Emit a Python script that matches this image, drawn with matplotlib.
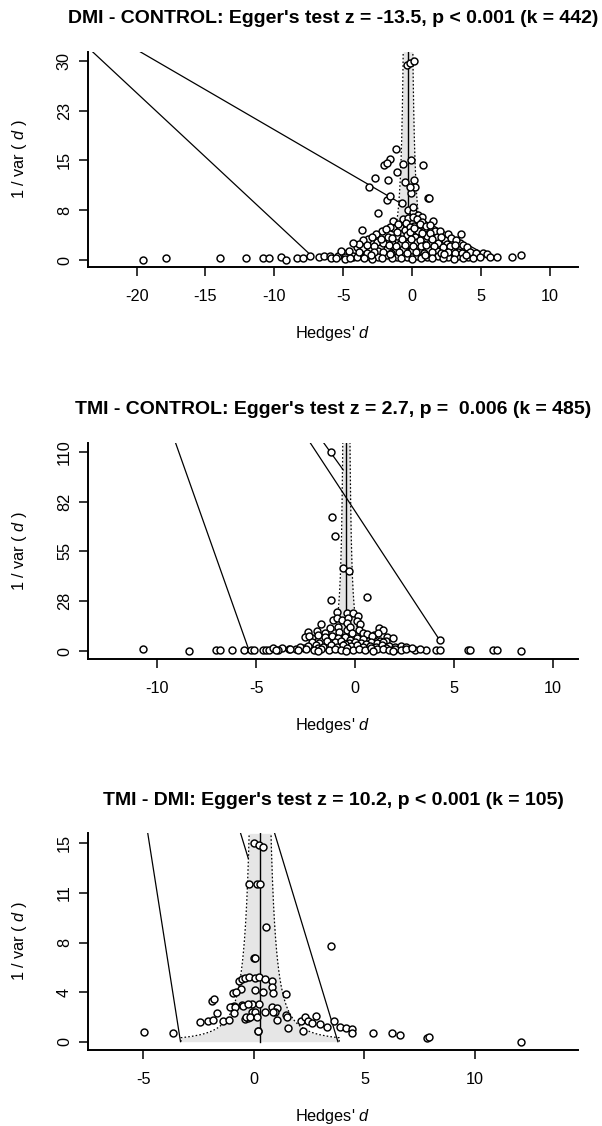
import numpy as np
import matplotlib
matplotlib.use("Agg")
import matplotlib.pyplot as plt

plt.rcParams['font.family'] = ['Liberation Sans', 'DejaVu Sans']
plt.rcParams['mathtext.fontset'] = 'custom'
plt.rcParams['mathtext.it'] = 'Liberation Sans:italic'
plt.rcParams['mathtext.rm'] = 'Liberation Sans'

# ---------------- DMI - CONTROL ----------------
dc_title = "DMI - CONTROL: Egger's test z = -13.5, p < 0.001 (k = 442)"
dc_est = -0.31
dc_d = [
    -0.41, -0.17, 0.12, -1.18, -1.62, -2.03, -1.86, -0.70, -0.09, 0.80, -1.13, -2.71,
    -1.74, -3.14, -0.53, 0.15, 0.20, -0.09, -0.17, 1.16, 1.22, -1.86, -1.65, -0.77,
    -0.29, 0.07, 0.03, -2.49, 0.44, 0.68, -1.38, 1.52, -3.67, 3.53,
    -0.65, -0.29, 0.07, 0.32, 0.68,
    -1.38, -0.89, -0.53, -0.04, 0.44, 0.92, 1.65,
    -1.74, -1.13, -0.41, 0.20, 1.05, 1.77, 2.37,
    -2.58, -2.10, -1.49, -0.89, -0.29, 0.32, 0.80, 1.28, 1.89, 2.50, 2.98, 3.46,
    -4.03, -3.55, -3.07, -2.47, -1.86, -1.26, -0.65, -0.04, 0.56, 1.16, 1.77, 2.37,
    2.86, 3.34, 3.82,
    -4.28, -3.80, -3.19, -2.47, -1.86, -1.13, -0.41, 0.32, 1.05, 1.89, 2.61, 3.34, 4.06,
    5.15, 5.40, 5.64, 6.12, 7.26, 7.89,
    -19.53, -17.86, -13.96, -12.04, -10.84, -10.42, -9.50, -9.17, -8.39, -7.91, -7.44,
    -6.80, -6.38, -5.97, -5.90, -5.40, -5.04, -4.87, -4.29, -4.00,
    -1.05, -0.45, 0.15, 0.55, 1.00, -1.60, 1.30, -0.15,
    -2.20, -1.90, -1.10, -0.20, 0.70, 1.30, 2.00, -2.60, 2.60, 0.10,
    -3.20, -2.90, -2.30, -1.50, -0.75, -0.10, 0.55, 1.40, 2.10, 2.80, 3.20, -3.60,
    -3.90, -3.30, -2.80, -1.70, -1.20, -0.50, 0.05, 0.60, 1.00, 1.60, 2.20, 2.70,
    3.10, 3.70, -4.30, 4.00,
    -4.60, -3.90, -3.30, -2.80, -2.10, -1.55, -0.95, -0.35, 0.25, 0.85, 1.45, 2.05,
    2.60, 3.10, 3.60, 4.20, 4.60, -5.20,
    -5.50, -4.90, -4.50, -3.50, -2.90, -2.20, -1.50, -0.80, 0.00, 0.65, 1.40, 2.20,
    3.00, 3.70, 4.40, 4.90, -3.00, -1.60, 0.90, 2.30, 3.90,
]
dc_prec = [
    29.40, 29.75, 30.05, 16.70, 15.30, 14.27, 14.67, 14.47, 15.08, 14.32, 13.30, 12.30,
    12.06, 11.05, 11.80, 12.06, 11.05, 10.05, 11.05, 9.40, 9.40, 9.05, 9.60, 8.64,
    7.54, 7.28, 8.00, 7.04, 6.78, 6.53, 5.93, 5.93, 4.52, 3.92,
    6.13, 6.28, 6.53, 6.13, 5.77,
    4.77, 4.92, 4.52, 4.62, 4.42, 4.77, 4.42,
    3.52, 3.62, 3.77, 3.52, 3.62, 3.42, 3.02,
    2.76, 2.51, 2.61, 2.41, 2.61, 2.76, 2.41, 2.61, 2.51, 2.41, 2.76, 2.51,
    2.00, 1.76, 1.51, 1.40, 1.61, 1.40, 1.61, 1.51, 1.40, 1.61, 1.40, 1.61,
    1.40, 1.25, 1.51,
    0.50, 0.75, 0.60, 0.40, 0.75, 0.50, 0.40, 0.60, 0.40, 0.60, 0.40, 0.60, 0.40,
    1.00, 0.84, 0.50, 0.50, 0.50, 0.70,
    0.00, 0.25, 0.25, 0.25, 0.25, 0.25, 0.45, 0.00, 0.25, 0.25, 0.60,
    0.40, 0.60, 0.60, 0.25, 0.60, 1.10, 0.40, 0.60, 0.40,
    5.40, 5.55, 5.20, 5.45, 5.10, 5.05, 5.25, 5.00,
    4.30, 4.60, 4.20, 4.25, 4.00, 4.10, 4.30, 3.95, 3.85, 4.90,
    3.20, 3.50, 3.10, 3.30, 3.10, 3.20, 3.05, 3.15, 3.50, 3.30, 3.00, 3.00,
    2.40, 2.20, 2.10, 2.20, 2.05, 2.20, 2.15, 2.05, 2.25, 2.10, 2.00, 2.10,
    2.20, 2.30, 2.60, 2.00,
    1.30, 1.20, 1.05, 1.15, 1.20, 1.05, 1.20, 1.10, 1.20, 1.05, 1.20, 1.10,
    1.20, 1.00, 1.05, 1.20, 1.00, 1.30,
    0.30, 0.20, 0.25, 0.30, 0.20, 0.30, 0.25, 0.30, 0.20, 0.30, 0.25, 0.30,
    0.20, 0.30, 0.25, 0.50, 0.80, 0.90, 0.80, 0.85, 0.80,
]
dc_segments = [((-23.2, 31.4), (-7.5, 1.0)),
               ((-19.75, 31.4), (-1.0, 8.75)),
               ((0.45, 6.4), (5.5, 0.6))]
dc_xticks = [-20, -15, -10, -5, 0, 5, 10]
dc_yticks = [0, 7.5, 15, 22.5, 30]
dc_yticklabels = ['0', '8', '15', '23', '30']

# ---------------- TMI - CONTROL ----------------
tc_title = "TMI - CONTROL: Egger's test z = 2.7, p =  0.006 (k = 485)"
tc_est = -0.44
tc_d = [
    -1.22, -1.15, -1.00, -0.60, -0.30, -1.21, 0.62,
    -0.89, -0.42, -0.12, 0.17,
    -1.10, -0.89, -0.67, -0.34, -0.42, 0.09, 0.25,
    -1.74, -1.26, -0.88, -0.42, -0.25, 0.22, 1.23, 1.43,
    -2.36, -1.94, -1.52, -0.79, -0.17, 0.42,
    0.59, 0.96, 1.18, 1.60, 1.57, 1.94, 1.26, 0.67,
    -2.53, -2.19, -1.85, -1.52, -1.18, -0.84, -0.51, -0.25, 0.09, 0.42,
    -2.33, 0.84, 4.27,
    -10.73, -8.40, -7.05, -6.85, -6.21, -5.62, -5.24, -5.10, -4.65, -4.50, -4.37,
    -4.13, -3.69, -3.35, -3.00, -2.60, 3.01, 3.60, 4.08, 4.27, 5.70, 5.83, 7.00,
    7.20, 8.39,
    -2.20, -1.80, -1.40, -1.00, -0.70, -0.30, 0.00, 0.30, 0.80, 1.10, 1.40, -0.50, 0.55,
    -2.40, -2.00, -1.60, -1.20, -0.90, -0.60, -0.20, 0.10, 0.40, 0.75, 1.05, 1.35,
    1.70, 2.00, 2.30, 2.60, -2.80, -1.90, 1.55,
    -3.30, -2.90, -2.50, -2.10, -1.70, -1.30, -1.00, -0.70, -0.40, -0.10, 0.20, 0.50,
    0.80, 1.10, 1.40, 1.70, 2.00, 2.30, 2.60, 2.90, -3.90, -4.00, 3.30, -0.45, 0.90,
    1.90, -1.90,
]
tc_prec = [
    110.0, 74.1, 63.3, 45.8, 44.2, 28.3, 30.0,
    21.7, 20.8, 20.8, 19.3,
    17.1, 18.0, 17.1, 18.0, 15.3, 16.6, 14.9,
    14.9, 12.5, 13.4, 11.6, 13.1, 11.6, 12.5, 11.6,
    10.3, 11.0, 9.8, 10.3, 9.8, 10.1,
    9.2, 8.8, 9.8, 7.9, 5.7, 7.0, 5.7, 5.7,
    7.9, 7.0, 8.8, 7.5, 8.3, 7.0, 7.5, 6.1, 7.0, 6.5,
    8.2, 8.3, 6.1,
    1.0, 0.0, 0.8, 0.8, 0.8, 0.8, 0.5, 0.5, 0.5, 0.5, 0.8,
    1.5, 1.8, 1.2, 1.2, 1.5, 0.5, 0.5, 0.8, 0.8, 0.8, 0.8, 0.8,
    0.8, 0.0,
    5.0, 4.6, 5.3, 4.8, 5.6, 4.5, 5.1, 4.7, 5.2, 4.4, 4.9, 3.9, 3.8,
    2.8, 3.3, 2.5, 3.1, 2.2, 3.3, 2.6, 3.4, 2.4, 3.0, 2.3, 3.2,
    2.6, 2.2, 2.9, 2.4, 2.2, 1.9, 1.9,
    0.9, 0.6, 1.0, 0.7, 1.2, 0.6, 1.4, 0.8, 1.5, 0.6, 1.2, 0.7,
    1.5, 0.9, 1.3, 0.6, 1.4, 0.8, 1.2, 1.7, 0.7, 0.5, 0.9, 0.2, 0.2,
    0.3, 0.3,
]
tc_segments = [((-9.08, 115.0), (-5.4, 1.5)),
               ((-2.27, 115.0), (4.25, 6.5)),
               ((-1.59, 115.0), (-0.6, 100.0))]
tc_xticks = [-10, -5, 0, 5, 10]
tc_yticks = [0, 27.5, 55, 82.5, 110]
tc_yticklabels = ['0', '28', '55', '82', '110']

# ---------------- TMI - DMI ----------------
td_title = "TMI - DMI: Egger's test z = 10.2, p < 0.001 (k = 105)"
td_est = 0.28
td_d = [
    0.01, 0.24, 0.40, -0.20, 0.12, 0.29, 0.55, 3.47, 0.00, 0.07,
    -0.66, -0.55, -0.40, -0.23, 0.03, 0.22, 0.50, 0.81, -0.57, 0.83, 0.85,
    0.05, 0.43, 1.46, -0.95, -0.83,
    -1.90, -1.80, -1.00, -0.88, -0.55, -0.10, 0.25, -0.50, -0.28, 0.81, 1.04,
    0.96, -1.06, -0.85,
    -1.68, -0.89, -0.10, 0.05, 0.51, 0.88, 1.46,
    -0.40, -0.25, 1.04, -0.37, -0.19, 0.15, 1.49,
    -2.43, -2.06, -1.83, -1.38, -1.11,
    2.15, 2.32, 2.45, 2.62, 2.82, 2.98, 3.29, 3.62, 3.91, 4.17, 4.43, 4.46,
    1.56, 0.20, 0.17, 2.21,
    -4.97, -3.67, 5.41, 6.24, 6.62, 7.83, 7.94, 12.09,
]
td_prec = [
    15.04, 14.85, 14.75, 11.95, 11.95, 11.95, 8.65, 7.26, 6.35, 6.35,
    4.62, 4.76, 4.80, 4.86, 4.85, 4.87, 4.75, 4.58, 3.95, 4.10, 3.70,
    3.88, 3.74, 3.63, 3.65, 3.72,
    3.10, 3.20, 2.60, 2.72, 2.77, 2.85, 2.85, 2.70, 2.82, 2.65, 2.52,
    2.27, 2.65, 2.65,
    2.19, 2.15, 2.27, 2.27, 2.27, 2.27, 2.02,
    1.72, 1.77, 1.64, 1.89, 1.84, 1.89, 1.89,
    1.47, 1.56, 1.64, 1.56, 1.64,
    1.60, 1.85, 1.53, 1.39, 1.92, 1.30, 1.14, 1.58, 1.10, 1.04, 0.94, 0.62,
    1.01, 0.83, 0.81, 0.80,
    0.76, 0.63, 0.63, 0.68, 0.47, 0.25, 0.38, 0.00,
]
td_segments = [((-4.8, 15.76), (-3.32, 0.0)),
               ((0.94, 15.76), (3.8, 0.0)),
               ((-0.6, 15.76), (-0.26, 13.9))]
td_xticks = [-5, 0, 5, 10]
td_yticks = [0, 3.75, 7.5, 11.25, 15]
td_yticklabels = ['0', '4', '8', '11', '15']

fig = plt.figure(figsize=(6.02, 11.26), dpi=100)

panels = [
    dict(rect=[0.1467, 0.7626, 0.8130, 0.1915], title=dc_title, d=dc_d, prec=dc_prec,
         est=dc_est, y_lo=0.25, segs=dc_segments, xlim=(-23.5, 12.0), ylim=(-1.1, 31.4),
         xticks=dc_xticks, yticks=dc_yticks, ylabels=dc_yticklabels),
    dict(rect=[0.1467, 0.4147, 0.8130, 0.1921], title=tc_title, d=tc_d, prec=tc_prec,
         est=tc_est, y_lo=0.25, segs=tc_segments, xlim=(-13.49, 11.26), ylim=(-4.4, 115.0),
         xticks=tc_xticks, yticks=tc_yticks, ylabels=tc_yticklabels),
    dict(rect=[0.1467, 0.0675, 0.8130, 0.1924], title=td_title, d=td_d, prec=td_prec,
         est=td_est, y_lo=0.30, segs=td_segments, xlim=(-7.49, 14.65), ylim=(-0.63, 15.76),
         xticks=td_xticks, yticks=td_yticks, ylabels=td_yticklabels),
]

for p in panels:
    ax = fig.add_axes(p['rect'])
    est = p['est']
    ytop = p['ylim'][1]

    # pseudo confidence region around the pooled estimate
    yy = np.concatenate([[0.0], np.linspace(p['y_lo'], ytop, 300)])
    half = 1.96 / np.sqrt(np.maximum(yy, p['y_lo']))
    ax.fill_betweenx(yy, est - half, est + half, color='#e6e6e6', lw=0, zorder=1)
    for side in (-1, 1):
        ax.plot(est + side * half, yy, color='black', lw=0.9,
                ls=(0, (1.3, 1.7)), zorder=2)
    ax.plot([est, est], [0, ytop], color='black', lw=1.0, zorder=2)

    for (x0, y0), (x1, y1) in p['segs']:
        ax.plot([x0, x1], [y0, y1], color='black', lw=0.9, zorder=2)

    ax.plot(p['d'], p['prec'], 'o', ms=5.0, mfc='white', mec='black',
            mew=1.05, ls='none', zorder=3)

    ax.set_xlim(*p['xlim'])
    ax.set_ylim(*p['ylim'])
    ax.set_xticks(p['xticks'])
    ax.set_xticklabels([str(t) for t in p['xticks']])
    ax.set_yticks(p['yticks'])
    ax.set_yticklabels(p['ylabels'], rotation=90, va='center')

    for s in ('top', 'right'):
        ax.spines[s].set_visible(False)
    for s in ('left', 'bottom'):
        ax.spines[s].set_linewidth(1.4)
    ax.tick_params(axis='both', direction='out', length=6.8, width=1.1,
                   labelsize=11.7)
    ax.tick_params(axis='x', pad=9)
    ax.tick_params(axis='y', pad=5)

    ax.set_title(p['title'], fontsize=14, fontweight='bold', pad=20.5)
    ax.text(0.5, -0.309, "Hedges' $d$", transform=ax.transAxes,
            ha='center', va='center', fontsize=11.7)
    ax.text(-0.1396, 0.5, "1 / var ( $d$ )", transform=ax.transAxes,
            ha='center', va='center', rotation=90, fontsize=11.7)

fig.savefig('out.png', dpi=100)
